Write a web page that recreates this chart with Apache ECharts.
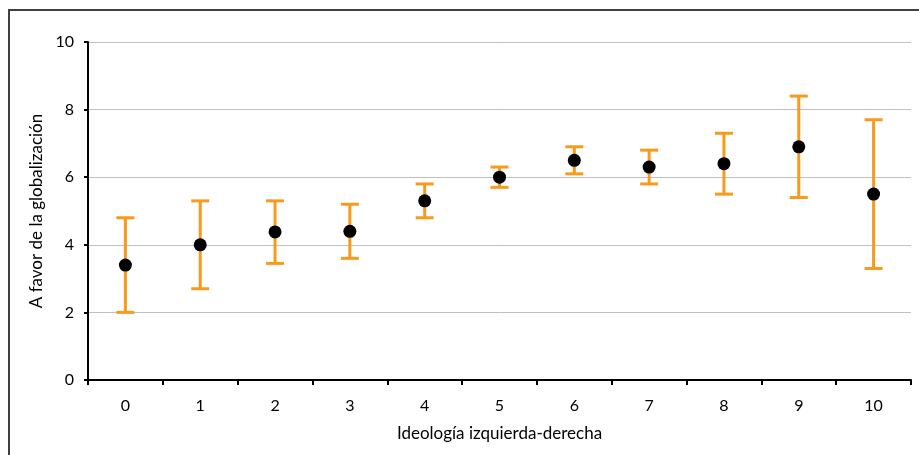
<!DOCTYPE html>
<html>
<head>
<meta charset="utf-8">
<script src="https://cdn.jsdelivr.net/npm/echarts@6/dist/echarts.min.js"></script>
<style>
  html, body { margin: 0; padding: 0; background: #fff; }
  #chart { width: 919px; height: 455px; }
  #frame { position: absolute; left: 8px; top: 9px; width: 930px; height: 470px; border: 2px solid #404040; box-sizing: border-box; pointer-events: none; }
</style>
</head>
<body>
<div id="chart"></div>
<div id="frame"></div>
<script>
// Ideology scale (0 = left, 10 = right)
const categories = ['0', '1', '2', '3', '4', '5', '6', '7', '8', '9', '10'];
// Mean support for globalisation per ideology position
const means = [3.4, 4.0, 4.38, 4.4, 5.3, 6.0, 6.5, 6.3, 6.4, 6.9, 5.5];
// Interval bounds around each mean
const lower = [2.0, 2.7, 3.45, 3.6, 4.8, 5.7, 6.1, 5.8, 5.5, 5.4, 3.3];
const upper = [4.8, 5.3, 5.3, 5.2, 5.8, 6.3, 6.9, 6.8, 7.3, 8.4, 7.7];
const yTicks = { min: 0, max: 10, interval: 2 };

const FONT = 'Lato';
const FS = 16;
const TITLE_FS = 17;
const orange = '#F99A1C';

const intervalData = categories.map((c, i) => [i, lower[i], upper[i]]);

const chart = echarts.init(document.getElementById('chart'), null, { renderer: 'canvas' });

chart.setOption({
  animation: false,
  backgroundColor: '#fff',
  textStyle: { fontFamily: FONT },
  grid: { left: 88, right: 8, top: 42, bottom: 75 },
  xAxis: {
    type: 'category',
    data: categories,
    boundaryGap: true,
    name: 'Ideología izquierda-derecha',
    nameLocation: 'middle',
    nameGap: 45,
    nameTextStyle: { fontFamily: FONT, fontSize: TITLE_FS, color: '#000' },
    axisLine: { lineStyle: { color: '#000', width: 2 } },
    axisTick: { show: true, length: 5, lineStyle: { color: '#000', width: 2 } },
    axisLabel: { fontFamily: FONT, fontSize: FS, color: '#000', margin: 18 },
    splitLine: { show: false }
  },
  yAxis: {
    type: 'value',
    min: yTicks.min,
    max: yTicks.max,
    interval: yTicks.interval,
    name: 'A favor de la globalización',
    nameLocation: 'middle',
    nameGap: 43,
    nameRotate: 90,
    nameTextStyle: { fontFamily: FONT, fontSize: TITLE_FS, color: '#000' },
    axisLine: { show: true, lineStyle: { color: '#000', width: 2 } },
    axisTick: { show: true, length: 4, lineStyle: { color: '#000', width: 2 } },
    axisLabel: { fontFamily: FONT, fontSize: FS, color: '#000', margin: 14 },
    splitLine: { show: true, lineStyle: { color: '#BFBFBF', width: 1 } }
  },
  series: [
    {
      type: 'custom',
      name: 'intervalo',
      data: intervalData,
      z: 2,
      renderItem: function (params, api) {
        const x = api.value(0);
        const lo = api.coord([x, api.value(1)]);
        const hi = api.coord([x, api.value(2)]);
        const half = 9;
        const style = { stroke: orange, lineWidth: 3, fill: null };
        return {
          type: 'group',
          children: [
            { type: 'line', shape: { x1: lo[0], y1: lo[1], x2: hi[0], y2: hi[1] }, style: style },
            { type: 'line', shape: { x1: hi[0] - half, y1: hi[1], x2: hi[0] + half, y2: hi[1] }, style: style },
            { type: 'line', shape: { x1: lo[0] - half, y1: lo[1], x2: lo[0] + half, y2: lo[1] }, style: style }
          ]
        };
      }
    },
    {
      type: 'scatter',
      name: 'media',
      data: means,
      symbol: 'circle',
      symbolSize: 13,
      z: 5,
      itemStyle: { color: '#000', opacity: 1 }
    }
  ]
});
</script>
</body>
</html>
